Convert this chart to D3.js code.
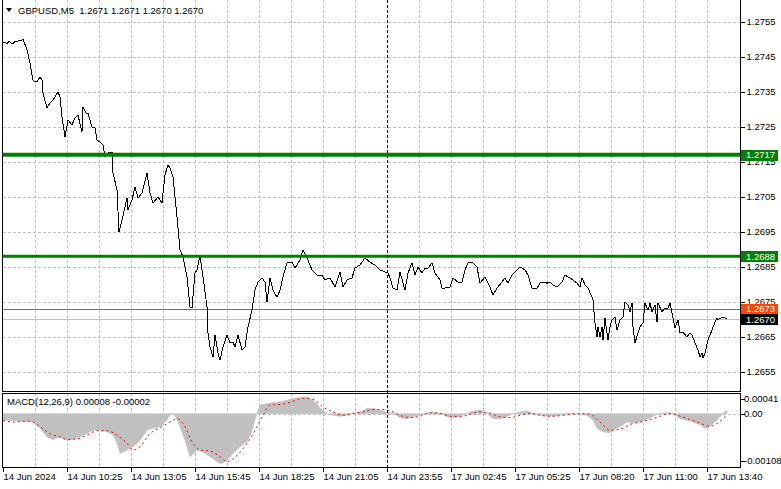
<!DOCTYPE html>
<html><head><meta charset="utf-8">
<script src="https://cdn.jsdelivr.net/npm/d3@7"></script>
<style>
html,body{margin:0;padding:0;background:#fff;}
svg{display:block;font-family:"Liberation Sans",Arial,sans-serif;}
</style></head><body>
<svg id="c" width="781" height="489"></svg>
<script>
// ---------- DATA ----------
const symbolName = "GBPUSD,M5";
const headerOHLC = ["1.2671", "1.2671", "1.2670", "1.2670"];
const macdTitle = "MACD(12,26,9)";
const macdLast = "0.00008";
const signalLast = "-0.00002";

// bar index (5-minute bars since 14 Jun 07:45) and close price
const priceBars = [
  0,1,2,3,4,5,6,7,8,9,10,
  12,13.5,15,16,17,18.5,19.5,20,22,23.5,
  25,27.5,28.5,29.5,31,32.5,34.5,36,37.5,39.5,
  40,41.5,42.5,44.5,46,47,48.5,50,51,52.5,
  54.5,55,57,58,59.5,62,62.5,64.5,66,67.5,
  69.5,72,73.5,75,77.5,79.5,81,82.5,83.5,85,
  87,88.5,90,92,93.5,94.5,96,97,98.5,100,
  102,102.5,103.5,105,106,107.5,108.5,110,112,113.5,
  115,116,117.5,119.5,121,122.5,124.5,126,127.5,129.5,
  131,132,133.5,135,137,138.5,140,142,144.5,146,
  148.5,150,152,154.5,157,159.5,161,163.5,166,168.5,
  170,172,174.5,176,178.5,181,183.5,186,188.5,191,
  192.5,193.5,195,197,198.5,200,201,202.5,204.5,206,
  207.5,209.5,211,212.5,214.5,216,218.5,219.5,221,223.5,
  225,227.5,229.5,231,232.5,235,237,238.5,241,243.5,
  245,247,249.5,251,252.5,254.5,256,258.5,261,262.5,
  264.5,267,268.5,270,272,273.5,275,277,279.5,281,
  282.5,285,287,288.5,289.5,291,292.5,294.5,295,296,
  297,297.5,298.5,299.5,300,301,302,302.5,303.5,304.5,
  306,307,308.5,310,311,312.5,313.5,314.5,315,316,
  317.5,318.5,320,321,322.5,323.5,324.5,326,327,327.5,
  329.5,331,332.5,333.5,334.5,335,336,337.5,338.5,340,
  342,343.5,344.5,346,347.5,348.5,349.5,350,351,352.5,
  354.5,356,357,357.5,359.5,361,362
];
const priceCloses = [
  1.27489,1.27492,1.27486,1.27495,1.27489,1.27486,1.27495,1.27492,1.27498,1.27495,1.27501,
  1.27469,1.27432,1.27383,1.27378,1.27378,1.27392,1.27383,1.27346,1.27303,1.27318,
  1.27326,1.27349,1.27335,1.27278,1.27221,1.27269,1.27255,1.27275,1.27283,1.27235,
  1.27306,1.27289,1.27289,1.27249,1.27246,1.27212,1.27206,1.27198,1.27163,1.27175,
  1.27178,1.27118,1.27069,1.26949,1.26983,1.27046,1.27012,1.27041,1.27078,1.27046,
  1.27061,1.27118,1.27061,1.27032,1.27049,1.27032,1.27112,1.27141,1.27132,1.27106,
  1.26992,1.26898,1.26878,1.26821,1.26735,1.26732,1.26832,1.26841,1.26883,1.26821,
  1.26735,1.26661,1.26621,1.26592,1.26655,1.26603,1.26583,1.26621,1.26655,1.26632,
  1.26635,1.26621,1.26655,1.26612,1.26621,1.26678,1.26726,1.26783,1.26806,1.26818,
  1.26806,1.26749,1.26818,1.26783,1.26763,1.26783,1.26821,1.26861,1.26863,1.26846,
  1.26869,1.26898,1.26875,1.26841,1.26826,1.26826,1.26812,1.26818,1.26792,1.26835,
  1.26792,1.26812,1.26818,1.26846,1.26855,1.26875,1.26863,1.26855,1.26841,1.26835,
  1.26832,1.26818,1.26789,1.26783,1.26835,1.26803,1.26783,1.26832,1.26861,1.26826,
  1.26849,1.26832,1.26846,1.26846,1.26861,1.26832,1.26812,1.26789,1.26789,1.26792,
  1.26818,1.26806,1.26806,1.26841,1.26861,1.26861,1.26849,1.26803,1.26821,1.26792,
  1.26769,1.26789,1.26806,1.26818,1.26803,1.26826,1.26835,1.26849,1.26841,1.26826,
  1.26789,1.26789,1.26803,1.26806,1.26803,1.26806,1.26798,1.26792,1.26806,1.26826,
  1.26821,1.26812,1.26803,1.26792,1.26818,1.26798,1.26789,1.26763,1.26755,1.26689,
  1.26649,1.26678,1.26649,1.26678,1.26641,1.26703,1.26661,1.26641,1.26678,1.26698,
  1.26706,1.26669,1.26698,1.26706,1.26749,1.26741,1.26721,1.26746,1.26678,1.26632,
  1.26661,1.26678,1.26689,1.26746,1.26726,1.26746,1.26721,1.26741,1.26692,1.26746,
  1.26721,1.26732,1.26732,1.26746,1.26718,1.26703,1.26675,1.26698,1.26661,1.26663,
  1.26649,1.26661,1.26655,1.26632,1.26612,1.26592,1.26603,1.26589,1.26603,1.26641,
  1.26669,1.26692,1.26703,1.26698,1.26706,1.26703,1.26700
];

const histBars = [
  0,15,18.5,22,25,28.5,32,35,38.5,42,
  45,48.5,52,55,57,58.5,62,65,68.5,72,
  75,78.5,82,84,86,88.5,91,93.5,97,100,
  103.5,107,109,112,115,118.5,122,124,126,127,
  128.5,132,135,138.5,142,145,148.5,152,155,157,
  158.5,162,165,168.5,172,175,178.5,182,185,188.5,
  192,195,198.5,202,205,208.5,212,215,218.5,222,
  225,228.5,232,235,238.5,242,245,248.5,252,255,
  258.5,262,265,268.5,272,275,278.5,282,285,288.5,
  292,295,297,300,303.5,305,308.5,312,315,318.5,
  322,325,328.5,332,335,338.5,342,345,348.5,351,
  353.5,357,360,362
];
const histValues = [
  -0.00013,-0.00017,-0.00030,-0.00048,-0.00053,-0.00048,-0.00055,-0.00053,-0.00048,-0.00041,
  -0.00034,-0.00034,-0.00037,-0.00044,-0.00061,-0.00082,-0.00075,-0.00068,-0.00055,-0.00034,
  -0.00030,-0.00027,-0.00013,0.00001,-0.00003,-0.00027,-0.00055,-0.00089,-0.00075,-0.00079,
  -0.00089,-0.00099,-0.00103,-0.00096,-0.00082,-0.00068,-0.00058,-0.00041,-0.00013,0.00001,
  0.00018,0.00021,0.00023,0.00025,0.00028,0.00032,0.00034,0.00035,0.00028,0.00021,
  0.00011,0.00001,-0.00003,-0.00005,-0.00003,0.00001,0.00004,0.00011,0.00011,0.00008,
  0.00004,0.00001,-0.00008,-0.00010,-0.00006,-0.00003,0.00002,0.00004,0.00001,-0.00006,
  -0.00008,-0.00005,0.00001,0.00006,0.00008,0.00001,-0.00010,-0.00010,-0.00006,0.00001,
  0.00004,0.00006,0.00001,-0.00003,-0.00005,-0.00005,-0.00003,0.00001,0.00001,-0.00001,
  -0.00003,-0.00013,-0.00030,-0.00037,-0.00039,-0.00034,-0.00027,-0.00017,-0.00019,-0.00017,
  -0.00012,-0.00005,0.00001,0.00002,0.00001,-0.00010,-0.00013,-0.00017,-0.00023,-0.00030,
  -0.00026,-0.00013,0.00001,0.00008
];

const signalBars = [
  0,5,12,15,18.5,23.5,28.5,32,37,42,
  47,52,57,62,65,68.5,73.5,78.5,83.5,87,
  90,95,98.5,103.5,108.5,112,117,122,127,130,
  133.5,140,145,150,155,160,165,170,175,180,
  185,190,195,198.5,203.5,208.5,213.5,218.5,223.5,228.5,
  233.5,238.5,243.5,248.5,253.5,258.5,263.5,268.5,273.5,278.5,
  283.5,288.5,293.5,298.5,303.5,308.5,313.5,318.5,323.5,328.5,
  333.5,338.5,343.5,348.5,353.5,357,362
];
const signalValues = [
  -0.00014,-0.00017,-0.00015,-0.00017,-0.00027,-0.00041,-0.00048,-0.00053,-0.00052,-0.00044,
  -0.00035,-0.00035,-0.00044,-0.00061,-0.00075,-0.00068,-0.00041,-0.00029,-0.00017,-0.00010,
  -0.00020,-0.00061,-0.00075,-0.00077,-0.00089,-0.00099,-0.00086,-0.00061,-0.00027,-0.00003,
  0.00018,0.00020,0.00026,0.00032,0.00030,0.00014,0.00004,-0.00003,0.00001,0.00004,
  0.00009,0.00009,0.00004,-0.00003,-0.00008,-0.00005,0.00002,0.00001,-0.00005,-0.00006,
  -0.00001,0.00004,0.00001,-0.00006,-0.00008,-0.00003,0.00001,-0.00003,-0.00005,-0.00004,
  -0.00001,0.00000,-0.00001,-0.00017,-0.00034,-0.00032,-0.00022,-0.00017,-0.00012,-0.00005,
  0.00001,-0.00005,-0.00012,-0.00019,-0.00026,-0.00020,-0.00002
];

const priceTicks = [1.2755,1.2745,1.2735,1.2725,1.2715,1.2705,1.2695,1.2685,1.2675,1.2665,1.2655];
const timeTickBars = [0,32,64,96,128,160,192,224,256,288,320,352];
const timeTickLabels = ["14 Jun 2024","14 Jun 10:25","14 Jun 13:05","14 Jun 15:45","14 Jun 18:25","14 Jun 21:05","14 Jun 23:55","17 Jun 02:45","17 Jun 05:25","17 Jun 08:20","17 Jun 11:00","17 Jun 13:40"];
const gridBars = [16,32,48,64,80,96,112,128,144,160,176,192,208,224,240,256,272,288,304,320,336,352];
const separatorBar = 192;
const levelValues = [1.2717, 1.2688];
const askValue = 1.2673;
const bidValue = 1.2670;
const macdTickValues = [0.00041, 0.00, -0.00108];
const macdTickLabels = ["0.00041", "0.00", "-0.00108"];

// ---------- LAYOUT ----------
const L = 3, R = 740;
const mainTop = 0, mainBot = 391;
const macdTop = 393, macdBot = 467;
const FS = 9.5;
const GREY = "#c0c0c0", GREEN = "#008000", ORANGE = "#ff4500";

const svg = d3.select("#c");
svg.append("rect").attr("width",781).attr("height",489).attr("fill","#fff");

const x = d3.scaleLinear().domain([0, 368.5]).range([L, R]);
const y = d3.scaleLinear().domain([1.2655, 1.2755]).range([371.7, 21.7]);
const ym = d3.scaleLinear().domain([-0.00108, 0.00041]).range([466, 394]);

const px = v => Math.round(x(v)) + 0.5;
const py = v => Math.round(y(v)) + 0.5;

// clips
const defs = svg.append("defs");
defs.append("clipPath").attr("id","cm").append("rect").attr("x",L).attr("y",mainTop).attr("width",R-L).attr("height",mainBot-mainTop);
defs.append("clipPath").attr("id","cd").append("rect").attr("x",L).attr("y",macdTop+1).attr("width",R-L).attr("height",macdBot-macdTop-1);

// grid
const grid = svg.append("g").attr("stroke",GREY).attr("stroke-width",1).attr("stroke-dasharray","3,2").attr("shape-rendering","crispEdges");
grid.selectAll("line.h").data(priceTicks).join("line")
  .attr("x1",L).attr("x2",R).attr("y1",d=>py(d)).attr("y2",d=>py(d));
grid.selectAll("line.v").data(gridBars.filter(b=>b!==separatorBar)).join("line")
  .attr("x1",d=>px(d)).attr("x2",d=>px(d)).attr("y1",mainTop).attr("y2",mainBot);
grid.selectAll("line.v2").data(gridBars.filter(b=>b!==separatorBar)).join("line")
  .attr("x1",d=>px(d)).attr("x2",d=>px(d)).attr("y1",macdTop).attr("y2",macdBot);
grid.append("line").attr("x1",L).attr("x2",R).attr("y1",Math.round(ym(0))+0.5).attr("y2",Math.round(ym(0))+0.5);

// ask / bid lines
svg.append("line").attr("x1",L).attr("x2",R).attr("y1",py(bidValue)).attr("y2",py(bidValue))
  .attr("stroke",GREY).attr("shape-rendering","crispEdges");
svg.append("line").attr("x1",L).attr("x2",R).attr("y1",py(askValue)).attr("y2",py(askValue))
  .attr("stroke",ORANGE).attr("shape-rendering","crispEdges");

// price line
const priceData = priceBars.map((b,i)=>({b, v: priceCloses[i]}));
svg.append("path").datum(priceData).attr("clip-path","url(#cm)")
  .attr("d", d3.line().x(d=>x(d.b)).y(d=>y(d.v)))
  .attr("fill","none").attr("stroke","#000").attr("stroke-width",1).attr("shape-rendering","crispEdges");

// levels
const lvW = [4, 3];
svg.selectAll("line.lv").data(levelValues).join("line")
  .attr("x1",L).attr("x2",R).attr("y1",d=>y(d)).attr("y2",d=>y(d))
  .attr("stroke",GREEN).attr("stroke-width",(d,i)=>lvW[i]);

// MACD histogram and signal
const histData = histBars.map((b,i)=>({b, v: histValues[i]}));
svg.append("path").datum(histData).attr("clip-path","url(#cd)")
  .attr("d", d3.area().x(d=>x(d.b)).y0(ym(0)).y1(d=>ym(d.v)))
  .attr("fill",GREY).attr("stroke",GREY).attr("stroke-width",0.6);
const sigData = signalBars.map((b,i)=>({b, v: signalValues[i]}));
svg.append("path").datum(sigData).attr("clip-path","url(#cd)")
  .attr("d", d3.line().curve(d3.curveMonotoneX).x(d=>x(d.b)).y(d=>ym(d.v)))
  .attr("fill","none").attr("stroke","#ff0000").attr("stroke-width",1).attr("stroke-dasharray","2,3");

// separator
svg.append("line").attr("x1",px(separatorBar)).attr("x2",px(separatorBar)).attr("y1",mainTop).attr("y2",macdBot)
  .attr("stroke","#000").attr("stroke-dasharray","3,2").attr("shape-rendering","crispEdges");

// frames
const frame = svg.append("g").attr("stroke","#000").attr("fill","none").attr("shape-rendering","crispEdges");
frame.append("path").attr("d",`M${L-0.5},${mainTop}V${mainBot+0.5}H${R+0.5}V${mainTop}`);
frame.append("rect").attr("x",L-0.5).attr("y",macdTop+0.5).attr("width",R-L+1).attr("height",macdBot-macdTop);

// price axis
const ax = svg.append("g").attr("transform",`translate(${R+0.5},0)`)
  .call(d3.axisRight(y).tickValues(priceTicks).tickSize(4).tickPadding(2).tickFormat(d3.format(".4f")));
ax.select(".domain").remove();
ax.selectAll("line").attr("stroke","#000").attr("shape-rendering","crispEdges");
ax.selectAll("text").attr("font-size",FS).attr("font-family","Liberation Sans, Arial").attr("fill","#000");

// time axis
const tx = svg.append("g").attr("transform",`translate(0,${macdBot+0.5})`)
  .call(d3.axisBottom(x).tickValues(timeTickBars).tickSize(4).tickFormat((d,i)=>timeTickLabels[i]));
tx.select(".domain").remove();
tx.selectAll(".tick").attr("transform",d=>`translate(${px(d)},0)`);
tx.selectAll("line").attr("stroke","#000").attr("shape-rendering","crispEdges");
tx.selectAll("text").attr("font-size",FS).attr("font-family","Liberation Sans, Arial").attr("fill","#000")
  .attr("text-anchor","start").attr("x",0).attr("y",6).attr("dy","0.71em");

// MACD axis
const mAx = svg.append("g");
macdTickValues.forEach((v,i)=>{
  const ty = Math.max(399, Math.min(461, ym(v)));
  mAx.append("line").attr("x1",R+0.5).attr("x2",R+4.5).attr("y1",Math.round(ty)+0.5).attr("y2",Math.round(ty)+0.5)
    .attr("stroke","#000").attr("shape-rendering","crispEdges");
  mAx.append("text").attr("x",R+4).attr("y",ty).attr("dy","0.34em").attr("font-size",FS).text(macdTickLabels[i]);
});

// price labels (boxes)
const boxes = [
  {v: levelValues[0], fill: GREEN},
  {v: levelValues[1], fill: GREEN},
  {v: askValue, fill: ORANGE},
  {v: bidValue, fill: "#000"}
];
const bg = svg.append("g");
boxes.forEach(bx=>{
  const cy = y(bx.v);
  bg.append("rect").attr("x",R+1).attr("y",Math.round(cy)-5).attr("width",37).attr("height",11).attr("fill",bx.fill);
  bg.append("text").attr("x",R+6).attr("y",cy).attr("dy","0.35em").attr("font-size",FS).attr("fill","#fff")
    .text(d3.format(".4f")(bx.v));
});

// header
svg.append("path").attr("d","M6,8 L12,8 L9,12 Z").attr("fill","#000");
svg.append("text").attr("x",18).attr("y",14).attr("font-size",FS).attr("fill","#000")
  .style("white-space","pre")
  .text(`${symbolName}  ${headerOHLC.join(" ")}`);
svg.append("text").attr("x",7).attr("y",405).attr("font-size",FS).attr("fill","#000")
  .text(`${macdTitle} ${macdLast} ${signalLast}`);
</script>
</body></html>
